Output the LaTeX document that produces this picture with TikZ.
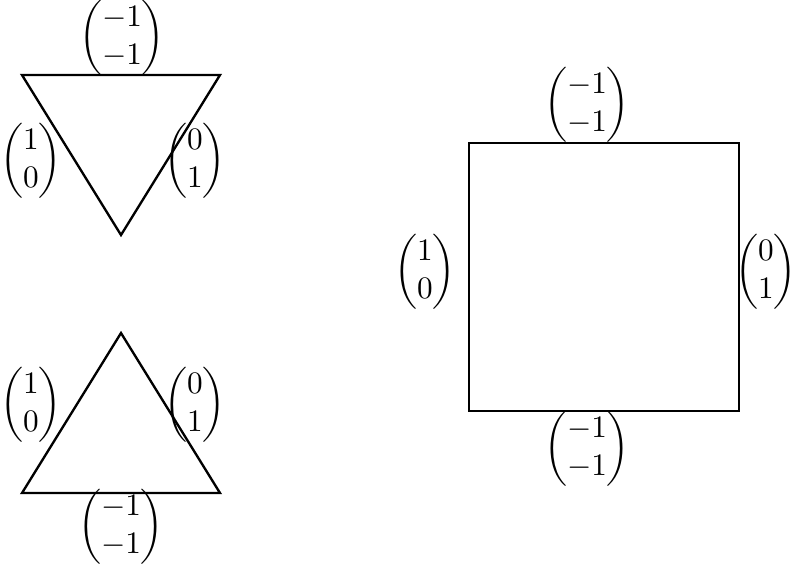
\documentclass[tikz,border=0pt]{standalone}
\usepackage{amsmath}
\begin{document}
\begin{tikzpicture}[x=0.32pt,y=-0.32pt,
  edge/.style={line width=0.75pt, line join=miter},
  lab/.style={inner sep=0pt}]
\useasboundingbox (0,0) rectangle (790,567);
% top triangle
\coordinate (t1) at (22,75);
\coordinate (t2) at (220,75);
\coordinate (t3) at (121,235);
\draw[edge] (t1) -- (t2) -- (t3) -- cycle;
\node[lab] (ta) at (122,38) {$\begin{pmatrix}-1\\-1\end{pmatrix}$};
\node[lab] (tb) at (31,161) {$\begin{pmatrix}1\\0\end{pmatrix}$};
\node[lab] (tc) at (195,161) {$\begin{pmatrix}0\\1\end{pmatrix}$};
% bottom triangle
\coordinate (b1) at (121,333);
\coordinate (b2) at (22,493);
\coordinate (b3) at (220,493);
\draw[edge] (b1) -- (b2) -- (b3) -- cycle;
\node[lab] (ba) at (31,405) {$\begin{pmatrix}1\\0\end{pmatrix}$};
\node[lab] (bb) at (195,405) {$\begin{pmatrix}0\\1\end{pmatrix}$};
\node[lab] (bc) at (121,527) {$\begin{pmatrix}-1\\-1\end{pmatrix}$};
% square
\coordinate (s1) at (469,143);
\coordinate (s2) at (739,411);
\draw[edge] (s1) rectangle (s2);
\node[lab] (sa) at (587,105) {$\begin{pmatrix}-1\\-1\end{pmatrix}$};
\node[lab] (sb) at (425,272) {$\begin{pmatrix}1\\0\end{pmatrix}$};
\node[lab] (sc) at (766,272) {$\begin{pmatrix}0\\1\end{pmatrix}$};
\node[lab] (sd) at (587,449) {$\begin{pmatrix}-1\\-1\end{pmatrix}$};
\end{tikzpicture}
\end{document}
